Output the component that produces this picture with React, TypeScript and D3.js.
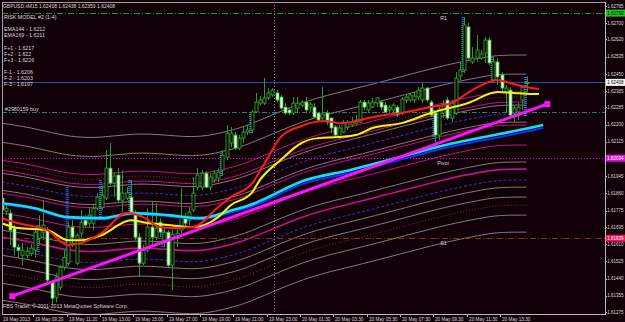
import React from 'react';
import * as d3 from 'd3';

// ---------- DATA ----------
const title = 'GBPUSD.xM15 1.62408 1.62438 1.62359 1.62408';
const infoLines = [
  'RISK MODEL #2 (1-4)', 'EMA144 - 1.6212', 'EMA169 - 1.6211',
  'F+1 - 1.6217', 'F+2 - 1.622', 'F+3 - 1.6226',
  'F-1 - 1.6206', 'F-2 - 1.6203', 'F-3 - 1.6197'
];
const orderLabel = '#2980159 buy';
const copyright = 'FBS Trader, \u00a9 2001-2013 MetaQuotes Software Corp.';

const priceTicks = [1.62785, 1.627, 1.6262, 1.62535, 1.6245, 1.62365, 1.62285, 1.622, 1.62115, 1.6203,
  1.61945, 1.6186, 1.61775, 1.61695, 1.6161, 1.61525, 1.6144, 1.61355, 1.61275];

const timeLabels = ['19 May 2013', '19 May 09:20', '19 May 11:20', '19 May 13:00', '19 May 15:00', '19 May 17:00',
  '19 May 19:00', '19 May 21:00', '19 May 23:00', '20 May 01:30', '20 May 03:30', '20 May 05:30',
  '20 May 07:30', '20 May 09:30', '20 May 11:30', '20 May 13:30'];

const opens = [1.61837,1.61773,1.61763,1.61689,1.61595,1.61555,1.61555,1.61565,1.6158,1.61639,
1.61669,1.61679,1.61422,1.61348,1.61397,1.61496,1.61516,1.61694,1.61516,1.61664,
1.61728,1.61713,1.61713,1.61787,1.61792,1.61837,1.61985,1.61911,1.61951,1.61827,
1.61837,1.61842,1.61763,1.61644,1.61516,1.6158,1.61694,1.61644,1.61718,1.61629,
1.61669,1.61506,1.61639,1.61679,1.61743,1.61728,1.61778,1.61891,1.61891,1.6196,
1.61891,1.61926,1.61936,1.61975,1.62039,1.62109,1.62148,1.62084,1.62133,1.62163,
1.62173,1.62262,1.62306,1.62306,1.62331,1.62346,1.62356,1.62336,1.62286,1.62272,
1.62257,1.62281,1.62296,1.62311,1.62286,1.62286,1.62257,1.62232,1.62257,1.62232,
1.62188,1.62138,1.62163,1.62188,1.62198,1.62207,1.62212,1.62311,1.62272,1.62286,
1.62306,1.62311,1.62296,1.62272,1.62272,1.62286,1.62257,1.62321,1.62321,1.62321,
1.62336,1.62321,1.6238,1.62311,1.62257,1.62148,1.62257,1.62321,1.62232,1.62257,
1.6244,1.62469,1.62682,1.62509,1.62528,1.62528,1.62553,1.62617,1.6242,1.62509,
1.62445,1.62356,1.6237,1.62257,1.62262,1.62321,1.62408];
const highs = [1.61852,1.61802,1.61778,1.61704,1.6161,1.61615,1.61595,1.6161,1.61689,1.61753,
1.61827,1.61694,1.61432,1.61466,1.61506,1.6158,1.61718,1.61728,1.61664,1.61778,
1.61753,1.61792,1.61802,1.61862,1.61901,1.62074,1.62109,1.61965,1.61985,1.61975,
1.61891,1.61926,1.61778,1.61664,1.61605,1.61787,1.61817,1.61812,1.61738,1.61689,
1.61679,1.61679,1.61694,1.61886,1.61763,1.61792,1.61941,1.61985,1.61975,1.6197,
1.6196,1.61975,1.61985,1.62074,1.62198,1.62188,1.62163,1.62148,1.62188,1.62198,
1.62272,1.62356,1.62341,1.6243,1.6238,1.6238,1.6237,1.62346,1.62306,1.62281,
1.62336,1.62336,1.62321,1.62336,1.62311,1.62306,1.62262,1.62385,1.62272,1.62237,
1.62198,1.62198,1.62222,1.62222,1.62237,1.62247,1.62321,1.62321,1.62321,1.62331,
1.62336,1.62321,1.62311,1.62296,1.62306,1.62296,1.62336,1.62346,1.62356,1.62361,
1.62385,1.62405,1.62385,1.62321,1.62262,1.62296,1.62321,1.62336,1.62321,1.62459,
1.62509,1.62731,1.62701,1.62583,1.62642,1.62568,1.62632,1.62632,1.62533,1.62528,
1.62459,1.62395,1.62385,1.62291,1.62306,1.62395,1.62438];
const lows = [1.61763,1.61753,1.61605,1.61555,1.6154,1.61506,1.6154,1.6155,1.61545,1.61605,
1.61629,1.61417,1.61308,1.61323,1.61382,1.61481,1.61506,1.61595,1.61506,1.61644,
1.61689,1.61694,1.61679,1.61778,1.61778,1.61827,1.61901,1.61842,1.61817,1.61768,
1.61827,1.61753,1.61629,1.61447,1.61506,1.6157,1.61605,1.61629,1.61644,1.61595,
1.61496,1.61382,1.61595,1.61654,1.61694,1.61704,1.61768,1.61876,1.61876,1.61886,
1.61876,1.61911,1.61916,1.61951,1.62025,1.62089,1.62074,1.62074,1.62109,1.62148,
1.62158,1.62257,1.62296,1.62296,1.62321,1.62336,1.62311,1.62272,1.62247,1.62247,
1.62247,1.62257,1.62286,1.62262,1.62262,1.62232,1.62212,1.62222,1.62198,1.62158,
1.62133,1.62128,1.62158,1.62173,1.62188,1.62198,1.62207,1.62272,1.62257,1.62281,
1.62286,1.62272,1.62257,1.62257,1.62257,1.62237,1.62247,1.62306,1.62311,1.62306,
1.62321,1.62306,1.62311,1.62237,1.62109,1.62123,1.62232,1.62222,1.62212,1.62247,
1.6242,1.62454,1.62519,1.62499,1.62509,1.62519,1.62504,1.62494,1.62405,1.62395,
1.62356,1.62257,1.62232,1.62212,1.62222,1.62272,1.62359];
const closes = [1.61778,1.61787,1.61679,1.61595,1.6158,1.6158,1.61575,1.6159,1.61669,1.61694,
1.61704,1.61432,1.61343,1.61447,1.61496,1.61545,1.61694,1.61644,1.61654,1.61718,
1.61704,1.61753,1.61787,1.61842,1.61852,1.61985,1.61911,1.61946,1.61827,1.61862,
1.61862,1.61768,1.61644,1.61516,1.6158,1.61694,1.61644,1.61689,1.61669,1.61669,
1.61506,1.61659,1.61664,1.61743,1.61713,1.61768,1.61862,1.61951,1.6196,1.61891,
1.61941,1.6196,1.61965,1.62049,1.62158,1.62158,1.62084,1.62133,1.62163,1.62173,
1.62262,1.62311,1.62321,1.62331,1.62356,1.6237,1.62321,1.62281,1.62257,1.62257,
1.62306,1.62306,1.62311,1.62272,1.62301,1.62237,1.62222,1.62252,1.62212,1.62183,
1.62148,1.62183,1.62212,1.62212,1.62212,1.62222,1.62311,1.62286,1.62306,1.62311,
1.62331,1.62286,1.62262,1.62286,1.62296,1.62247,1.62326,1.62336,1.62346,1.62341,
1.6237,1.6238,1.62321,1.62247,1.62148,1.62272,1.62301,1.62232,1.62306,1.6243,
1.62469,1.62692,1.62528,1.62528,1.62568,1.62548,1.62617,1.62504,1.62509,1.62435,
1.6238,1.6238,1.62247,1.62281,1.62286,1.62385,1.62408];

// blue dotted signal bars: bar index, top, bottom
const signalIdx = [9, 16, 24, 31, 39, 53, 60, 104, 111, 118, 126];
const signalTop = [1.61704, 1.61891, 1.61926, 1.61926, 1.61679, 1.62059, 1.62262, 1.62272, 1.62731, 1.62533, 1.62435];
const signalBottom = [1.61565, 1.61496, 1.61743, 1.61763, 1.61595, 1.61941, 1.62158, 1.62123, 1.62454, 1.62405, 1.62237];

// moving averages (bar index -> price)
const redIdx = [0,4,11,16,19,24,30,34,38,41,46,52,55,60,64,67,72,75,78,81,84,88,92,96,103,108,113,119,122,126,129];
const redVals = [1.61738,1.61713,1.61679,1.61605,1.61615,1.61664,1.61763,1.61743,1.61694,1.61689,1.61694,1.61792,
1.61842,1.61906,1.62039,1.62138,1.62193,1.62212,1.62217,1.62207,1.62212,1.62232,1.62247,1.62257,1.62286,1.62306,
1.6237,1.6242,1.62405,1.62385,1.62375];
const yellowIdx = [0,4,11,16,19,24,31,34,40,46,52,55,60,62,67,72,76,81,85,89,96,103,112,119,123,127,129];
const yellowVals = [1.61713,1.61689,1.61679,1.61629,1.61629,1.61654,1.61728,1.61718,1.61704,1.61694,1.61743,1.61802,
1.61862,1.61926,1.62025,1.62109,1.62133,1.62138,1.62148,1.62183,1.62207,1.62257,1.62306,1.62361,1.62356,1.62351,1.62351];
const emaIdx = [0,8,16,24,31.5,40,47.5,55.5,59.5,73,83.5,95.5,107.5,119.5,126.7,130];
const ema144 = [1.61812,1.61787,1.61743,1.61738,1.61763,1.61753,1.61738,1.61778,1.61802,1.61926,1.61975,1.62039,
1.62104,1.62153,1.62183,1.62198];
const ema169 = [1.61807,1.61783,1.61738,1.61733,1.61758,1.61748,1.61733,1.61768,1.61792,1.61911,1.6196,1.62025,
1.62089,1.62138,1.62168,1.62183];

// envelope bands around a base curve
const bandIdx = [0,8,16,24,31.5,40,47.5,55.5,59.5,73,83.5,95.5,107.5,115,119,126];
const bandBase = [1.61812,1.61787,1.61743,1.61738,1.61763,1.61753,1.61738,1.61778,1.61802,1.61926,1.61975,1.62039,
1.62104,1.62133,1.62148,1.62148];
const greyOffsets = [0.00395, 0.00301, 0.00148, 0.00064, -0.00133, -0.00257, -0.00306, -0.00395, -0.00479];
const pinkOffsets = [0.00212, 0.00163, 0.00049, -0.00049, -0.00168];
const blueOffsets = [0.00104, -0.00222];
const brownOffsets = [0.00188, -0.00346];

// trend line
const trendIdx = [2.6, 131];
const trendVals = [1.61353, 1.62301];

// horizontal levels
const levelR1 = 1.6275;
const levelBid = 1.62408;
const levelOrder = 1.62262;
const levelPivot = 1.62034;
const levelS1 = 1.61639;
const separatorIdx = 65.5;
const levelTextIdx = 105.3;

// ---------- CHART ----------
const W = 625, H = 322;
const L = 2, R = 605, T = 2, B = 314;
const BG = '#120008';
const FONT = "'Liberation Sans', Arial, sans-serif";
const FS = 5.3;
const AFS = 4.5;
const TXT = '#d8d8d8';

export default function App() {
  const n = opens.length;
  const x = d3.scaleLinear().domain([0, n - 1]).range([1.5, 1.5 + 4.1667 * (n - 1)]);
  const y = d3.scaleLinear().domain([1.61275, 1.62785]).range([312, 6]);

  const mkLine = (idx: number[], curve: d3.CurveFactory) =>
    d3.line<number>().x((_, i) => x(idx[i])).y((d) => y(d)).curve(curve);

  const maLine = (idx: number[]) => mkLine(idx, d3.curveMonotoneX);
  const bandLine = mkLine(bandIdx, d3.curveBasis);

  const hLine = (p: number, stroke: string, dash?: string, w = 1) => (
    <line x1={L} x2={R} y1={Math.round(y(p)) + 0.5} y2={Math.round(y(p)) + 0.5}
      stroke={stroke} strokeWidth={w} strokeDasharray={dash} />
  );

  const axisLabel = (p: number, color: string, key?: string) => (
    <text key={key} x={623.5} y={y(p) + 1.7} fontSize={AFS} fill={color} fontFamily={FONT} textAnchor="end">{p.toFixed(5)}</text>
  );

  const box = (p: number, fill: string, color: string) => {
    const yy = y(p);
    return (
      <g>
        <rect x={R + 1} y={yy - 3.5} width={W - R - 1} height={7} fill={fill} />
        {axisLabel(p, color)}
      </g>
    );
  };

  return (
    <div style={{ position: 'fixed', left: 0, top: 0 }}>
      <svg width={W} height={H} style={{ display: 'block', background: BG }}>
        <defs>
          <clipPath id="plot"><rect x={L} y={T} width={R - L} height={B - T} /></clipPath>
        </defs>
        <rect x={0} y={0} width={W} height={H} fill={BG} />
        <g clipPath="url(#plot)">
          {/* bands */}
          {greyOffsets.map((o, k) => (
            <path key={'g' + k} d={bandLine(bandBase.map((v) => v + o)) || ''} fill="none" stroke="#8a8a8a" strokeWidth={0.9} />
          ))}
          {brownOffsets.map((o, k) => (
            <path key={'br' + k} d={bandLine(bandBase.map((v) => v + o)) || ''} fill="none" stroke="#6e3c1c" strokeWidth={1} strokeDasharray="1,2" />
          ))}
          {blueOffsets.map((o, k) => (
            <path key={'b' + k} d={bandLine(bandBase.map((v) => v + o)) || ''} fill="none" stroke="#1e3cb8" strokeWidth={1} strokeDasharray="3,2" />
          ))}
          {pinkOffsets.map((o, k) => (
            <path key={'p' + k} d={bandLine(bandBase.map((v) => v + o)) || ''} fill="none" stroke="#c0108a" strokeWidth={k === 4 ? 1.6 : 1} />
          ))}

          {/* horizontal levels */}
          {hLine(levelR1, '#1a9a1a', '6,2,1,2')}
          {hLine(levelBid, '#2a48b0')}
          {hLine(levelOrder, '#1a8a6a', '5,2,1,2')}
          {hLine(levelPivot, '#d020c0', '1,2')}
          {hLine(levelS1, '#6a3a10', '6,2,1,2')}
          <line x1={Math.round(x(separatorIdx)) + 0.5} x2={Math.round(x(separatorIdx)) + 0.5} y1={T} y2={B}
            stroke="#7a8aa0" strokeDasharray="1,2" />

          {/* signal bars */}
          {signalIdx.map((si, k) => (
            <line key={'s' + k} x1={x(si) - 1} x2={x(si) - 1} y1={y(signalTop[k])} y2={y(signalBottom[k])}
              stroke="#2a6ad8" strokeWidth={3} strokeDasharray="1,1" />
          ))}

          {/* candles */}
          {opens.map((o, i) => {
            const c = closes[i];
            const cx = Math.round(x(i)) + 0.5;
            const top = Math.min(y(o), y(c));
            const h = Math.max(1, Math.abs(y(o) - y(c)));
            const bull = c >= o;
            return (
              <g key={'c' + i}>
                <line x1={cx} x2={cx} y1={y(highs[i])} y2={y(lows[i])} stroke="#1fa21f" strokeWidth={1} />
                <rect x={cx - 1.5} y={top} width={3} height={h}
                  fill={bull ? BG : '#eefbe8'} stroke="#2ab82a" strokeWidth={0.8} />
              </g>
            );
          })}

          {/* moving averages */}
          <path d={maLine(emaIdx)(ema169) || ''} fill="none" stroke="#1a2cff" strokeWidth={2} />
          <path d={maLine(emaIdx)(ema144) || ''} fill="none" stroke="#10e0f0" strokeWidth={2.6} />
          <path d={maLine(yellowIdx)(yellowVals) || ''} fill="none" stroke="#f5f500" strokeWidth={2} />
          <path d={maLine(redIdx)(redVals) || ''} fill="none" stroke="#ff1a1a" strokeWidth={2} />

          {/* trend line */}
          <path d={mkLine(trendIdx, d3.curveLinear)(trendVals) || ''} fill="none" stroke="#ff10ff" strokeWidth={3} />
          {trendIdx.map((ti, k) => (
            <rect key={'t' + k} x={x(ti) - 3} y={y(trendVals[k]) - 3} width={6} height={6} fill="#ff10ff" />
          ))}

          {/* level labels */}
          <text x={x(levelTextIdx)} y={y(levelR1) + 7} fontSize={FS} fill={TXT} fontFamily={FONT}>R1</text>
          <text x={x(levelTextIdx) - 3} y={y(levelPivot) + 7} fontSize={FS} fill={TXT} fontFamily={FONT}>Pivot</text>
          <text x={x(levelTextIdx)} y={y(levelS1) + 7} fontSize={FS} fill={TXT} fontFamily={FONT}>S1</text>
        </g>

        {/* frame */}
        <line x1={L + 0.5} x2={L + 0.5} y1={T} y2={B} stroke="#a0a0a0" />
        <line x1={L} x2={R} y1={T + 0.5} y2={T + 0.5} stroke="#a0a0a0" />
        <line x1={R + 0.5} x2={R + 0.5} y1={T} y2={B} stroke="#b8b8b8" />
        <line x1={L} x2={R + 1} y1={B + 0.5} y2={B + 0.5} stroke="#b8b8b8" />

        {/* price axis */}
        {priceTicks.map((p, k) => (
          <g key={'pt' + k}>
            <line x1={R} x2={R + 2} y1={Math.round(y(p)) + 0.5} y2={Math.round(y(p)) + 0.5} stroke="#b8b8b8" />
            {axisLabel(p, TXT)}
          </g>
        ))}
        {box(levelR1, '#20c020', '#0a0a0a')}
        {box(levelBid, '#f4f4f4', '#0a0a0a')}
        {box(levelPivot, '#e010e0', '#ffffff')}
        {box(levelS1, '#f01060', '#ffffff')}

        {/* time axis */}
        {timeLabels.map((t, k) => {
          const tx = k === 0 ? L : Math.round(x(8 * k) - 1.5) + 0.5;
          return (
            <g key={'tl' + k}>
              {k > 0 && <line x1={tx} x2={tx} y1={B} y2={B + 3} stroke="#b8b8b8" />}
              <text x={k === 0 ? 3 : tx + 1.5} y={321} fontSize={FS} fill={TXT} fontFamily={FONT}
                textLength={k === 0 ? 27 : 28.5} lengthAdjust="spacingAndGlyphs">{t}</text>
            </g>
          );
        })}

        {/* info texts */}
        <text x={3} y={8} fontSize={FS} fill={TXT} fontFamily={FONT} textLength={112} lengthAdjust="spacingAndGlyphs">{title}</text>
        {infoLines.map((t, k) => {
          const ys = [19, 31, 37, 50, 55.5, 61.5, 73.5, 80, 86];
          return <text key={'i' + k} x={4} y={ys[k]} fontSize={FS} fill={TXT} fontFamily={FONT}>{t}</text>;
        })}
        <text x={5} y={y(levelOrder) - 0.5} fontSize={FS} fill={TXT} fontFamily={FONT}>{orderLabel}</text>
        <text x={3} y={308} fontSize={FS} fill={TXT} fontFamily={FONT} textLength={125} lengthAdjust="spacingAndGlyphs">{copyright}</text>
      </svg>
    </div>
  );
}
